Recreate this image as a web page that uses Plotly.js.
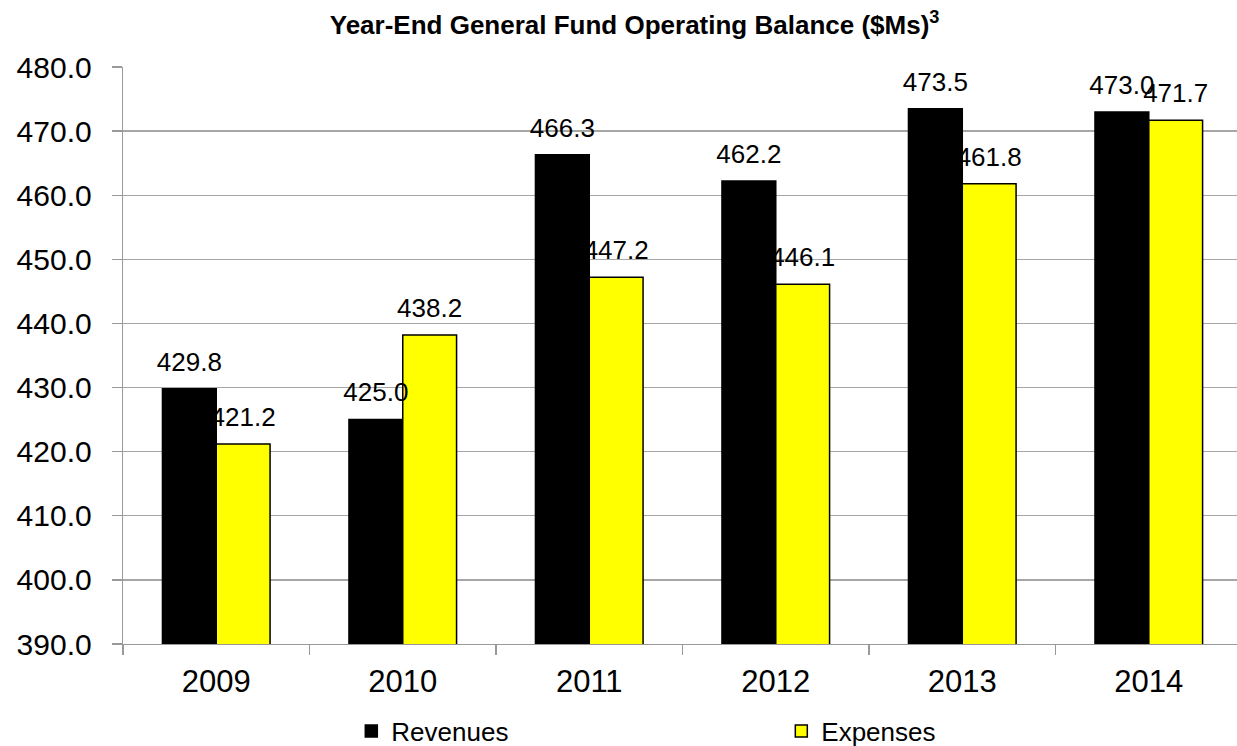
<!DOCTYPE html>
<html>
<head>
<meta charset="utf-8">
<script src="https://cdn.plot.ly/plotly-3.0.1.min.js"></script>
<style>html,body{margin:0;padding:0;background:#fff;}#chart{width:1237px;height:746px;}</style>
</head>
<body>
<div id="chart"></div>
<script>
const years = ["2009", "2010", "2011", "2012", "2013", "2014"];
const revenues = [429.8, 425.0, 466.3, 462.2, 473.5, 473.0];
const expenses = [421.2, 438.2, 447.2, 446.1, 461.8, 471.7];
const yTicks = [390, 400, 410, 420, 430, 440, 450, 460, 470, 480];

const FONT = "Arial, 'Liberation Sans', sans-serif";

function bar(name, vals, color) {
  return {
    type: "bar", name: name, x: years, y: vals, hoverinfo: "skip",
    offsetgroup: name,
    marker: {color: color, line: {color: "#000000", width: 1.5}}
  };
}
function labels(name, vals) {
  return {
    type: "scatter", mode: "markers+text", name: name + " labels", showlegend: false,
    x: years, y: vals, hoverinfo: "skip",
    offsetgroup: name,
    text: vals.map(function (v) { return v.toFixed(1); }),
    textposition: "top center",
    marker: {size: 17, opacity: 0, color: "rgba(0,0,0,0)"},
    cliponaxis: false,
    textfont: {family: FONT, size: 26, color: "#000"}
  };
}

const traces = [
  bar("Revenues", revenues, "#000000"),
  bar("Expenses", expenses, "#ffff00"),
  labels("Revenues", revenues),
  labels("Expenses", expenses)
];

const layout = {
  width: 1237, height: 746,
  margin: {l: 123, r: 0, t: 67, b: 102},
  paper_bgcolor: "#fff", plot_bgcolor: "#fff",
  font: {family: FONT, color: "#000"},
  title: {
    text: "<b>Year-End General Fund Operating Balance ($Ms)<sup>3</sup></b>",
    font: {family: FONT, size: 26, color: "#000"},
    xref: "container", x: 0.513, xanchor: "center",
    yref: "container", y: 0.967, yanchor: "middle"
  },
  barmode: "group",
  bargap: 0.423,
  bargroupgap: 0,
  scattermode: "group",
  scattergap: 0.423,
  xaxis: {
    type: "category",
    range: [-0.5, 5.473],
    showline: true, linecolor: "#999", linewidth: 1.3,
    ticks: "outside", tickson: "boundaries", ticklen: 10, tickcolor: "#999", tickwidth: 1.3,
    showgrid: false,
    tickfont: {family: FONT, size: 31, color: "#000"},
    ticklabelstandoff: 9
  },
  yaxis: {
    range: [390, 480],
    tickvals: yTicks,
    tickformat: ".1f",
    showline: true, linecolor: "#999", linewidth: 1.3,
    ticks: "outside", ticklen: 10, tickcolor: "#999", tickwidth: 1.3,
    showgrid: true, gridcolor: "#a6a6a6", gridwidth: 1.3,
    zeroline: false,
    tickfont: {family: FONT, size: 30, color: "#000"},
    ticklabelstandoff: 14
  },
  showlegend: true,
  legend: {
    orientation: "h",
    xref: "container", yref: "container",
    x: 0.284, xanchor: "left",
    y: 0.02, yanchor: "middle",
    font: {family: FONT, size: 26, color: "#000"},
    entrywidth: 385, entrywidthmode: "pixels",
    itemwidth: 30,
    bgcolor: "rgba(0,0,0,0)"
  }
};

Plotly.newPlot("chart", traces, layout, {displayModeBar: false, staticPlot: true});
</script>
</body>
</html>
